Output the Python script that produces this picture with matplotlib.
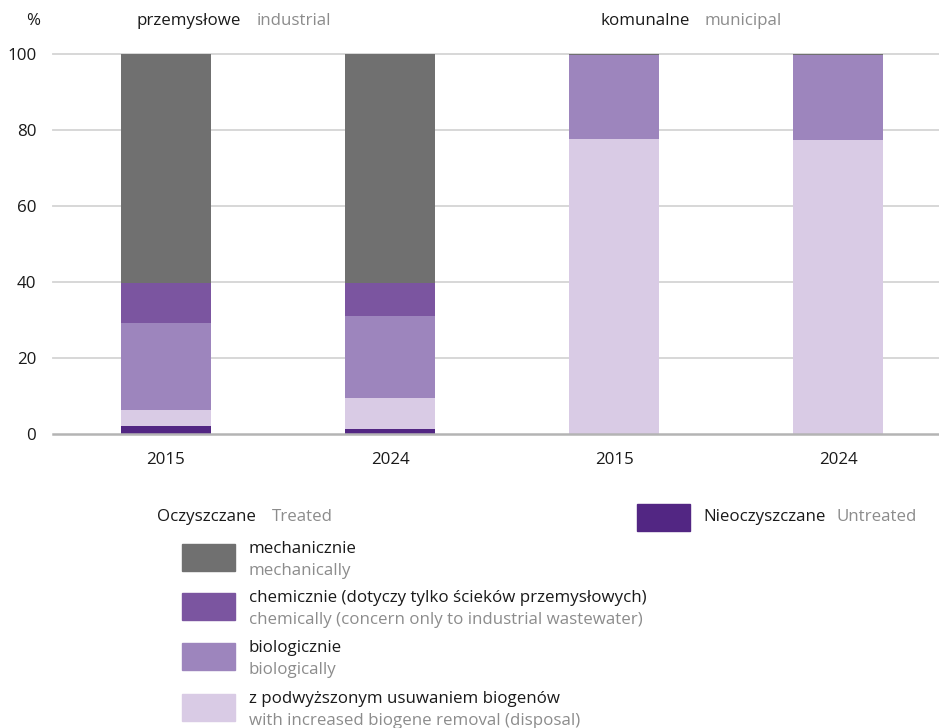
import matplotlib
matplotlib.use("Agg")
import matplotlib.pyplot as plt
from matplotlib.patches import Rectangle
import numpy as np

plt.rcParams['font.family'] = ['Open Sans', 'DejaVu Sans']

W, H = 939, 728

# ---- data ----
groups = ["przemysłowe", "komunalne"]
groups_en = ["industrial", "municipal"]
years = ["2015", "2024", "2015", "2024"]
untreated = [2.1, 1.3, 0.0, 0.0]
increased_biogene = [4.2, 8.2, 77.6, 77.4]
biologically = [22.9, 21.6, 22.2, 22.4]
chemically = [10.6, 8.7, 0.0, 0.0]
mechanically = [60.2, 60.2, 0.2, 0.2]
yticks = [0, 20, 40, 60, 80, 100]

series = [
    (untreated, "#522683"),
    (increased_biogene, "#d9cbe5"),
    (biologically, "#9d85bd"),
    (chemically, "#7b55a0"),
    (mechanically, "#707070"),
]

legend_items = [
    ("mechanicznie", "mechanically", "#707070"),
    ("chemicznie (dotyczy tylko ścieków przemysłowych)", "chemically (concern only to industrial wastewater)", "#7b55a0"),
    ("biologicznie", "biologically", "#9d85bd"),
    ("z podwyższonym usuwaniem biogenów", "with increased biogene removal (disposal)", "#d9cbe5"),
]

FS = 12.2

fig = plt.figure(figsize=(W / 100, H / 100), dpi=100)

def fx(x):
    return x / W

def fy(y):
    return 1 - y / H

ax = fig.add_axes([fx(53), fy(434), fx(939) - fx(53), fy(54) - fy(434)])
x = np.arange(len(years))
bottom = np.zeros(len(years))
for vals, col in series:
    v = np.array(vals)
    ax.bar(x, v, bottom=bottom, width=0.40, color=col, zorder=3, linewidth=0)
    bottom += v

ax.set_xlim(-0.504, 3.45)
ax.set_ylim(0, 100)
ax.set_yticks(yticks)
ax.set_xticks(x)
ax.set_xticklabels(years)
for s in ax.spines.values():
    s.set_visible(False)
for t in yticks:
    if t == 0:
        ax.axhline(t, color="#b4b4b4", lw=1.8, zorder=4, clip_on=False)
    else:
        ax.axhline(t, color="#d4d4d4", lw=1.3, zorder=1, clip_on=False)
ax.tick_params(axis="both", length=0, labelsize=FS, colors="#1a1a1a")
ax.tick_params(axis="y", pad=12)
ax.tick_params(axis="x", pad=13)

txtkw = dict(fontsize=FS, va="center")
fig.text(fx(26), fy(21), "%", color="#1a1a1a", **txtkw)
fig.text(fx(137), fy(21), groups[0], color="#1a1a1a", **txtkw)
fig.text(fx(257), fy(21), groups_en[0], color="#8c8c8c", **txtkw)
fig.text(fx(600), fy(21), groups[1], color="#1a1a1a", **txtkw)
fig.text(fx(704), fy(21), groups_en[1], color="#8c8c8c", **txtkw)

# legend
fig.text(fx(157), fy(517), "Oczyszczane", color="#1a1a1a", **txtkw)
fig.text(fx(272), fy(517), "Treated", color="#8c8c8c", **txtkw)
fig.patches.append(Rectangle((fx(637), fy(531)), fx(53), fy(504) - fy(531),
                             transform=fig.transFigure, color="#522683"))
fig.text(fx(703), fy(517), "Nieoczyszczane", color="#1a1a1a", **txtkw)
fig.text(fx(837), fy(517), "Untreated", color="#8c8c8c", **txtkw)

tops = [544, 593, 643, 694]
for (pl, en, col), t in zip(legend_items, tops):
    fig.patches.append(Rectangle((fx(182), fy(t + 27)), fx(53), fy(t) - fy(t + 27),
                                 transform=fig.transFigure, color=col))
    fig.text(fx(249), fy(t + 5), pl, color="#1a1a1a", **txtkw)
    fig.text(fx(249), fy(t + 27), en, color="#8c8c8c", **txtkw)

fig.savefig("out.png", dpi=100)
